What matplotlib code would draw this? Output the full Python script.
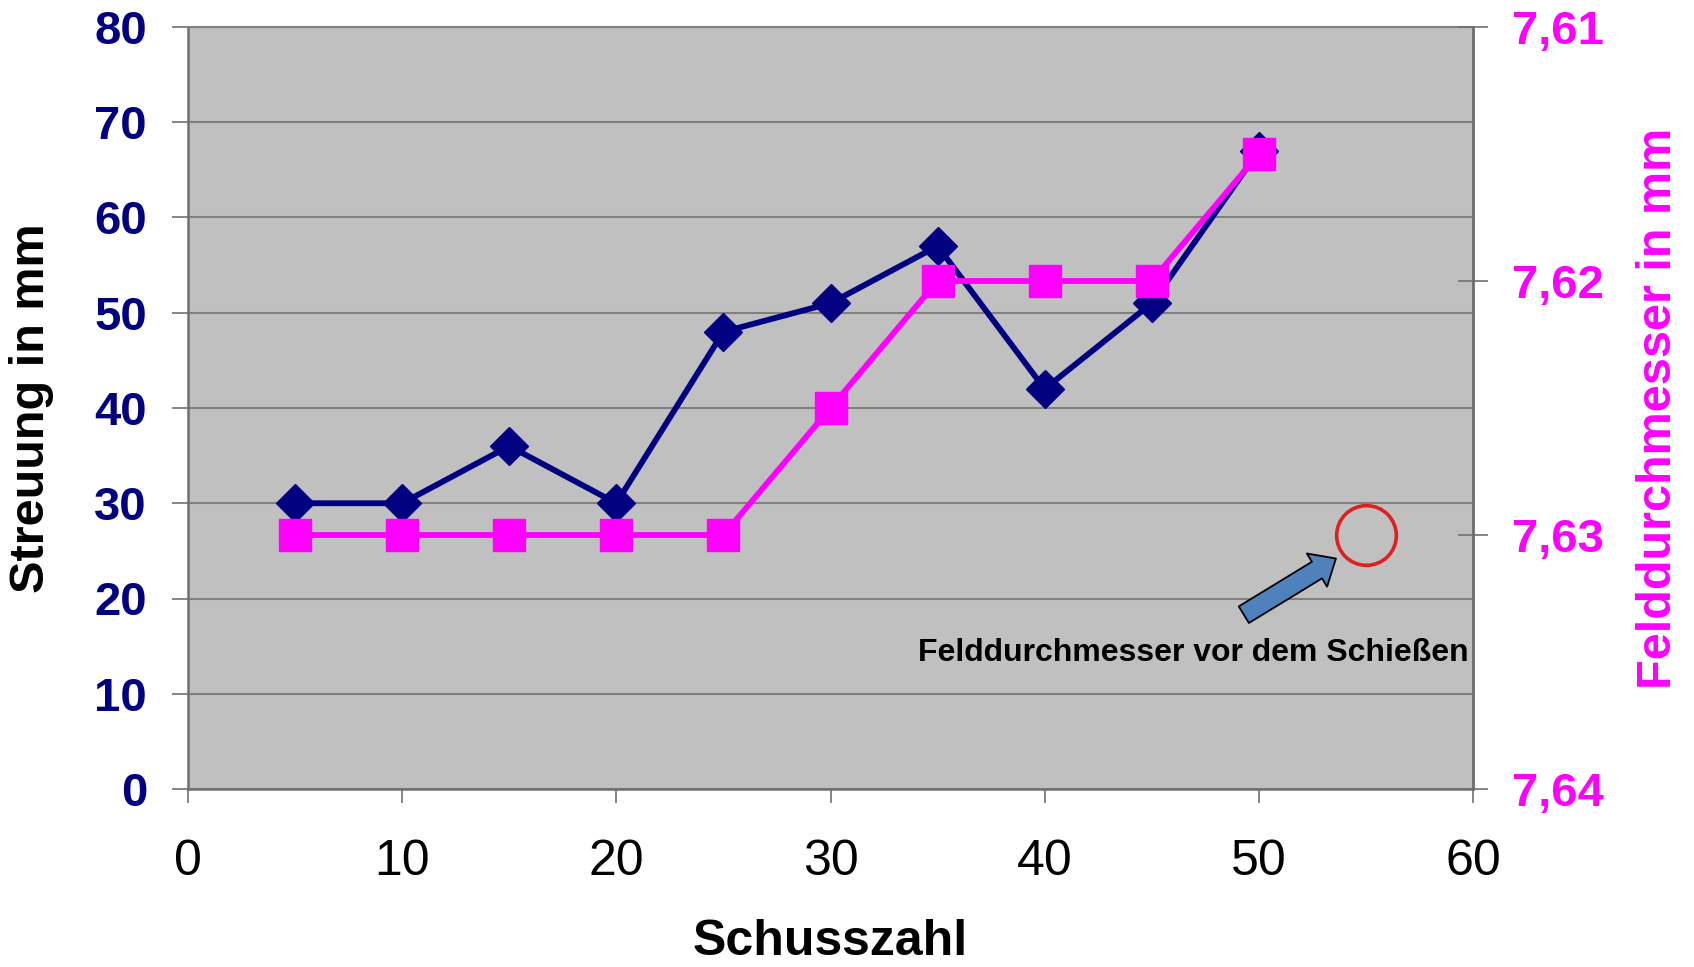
import matplotlib
matplotlib.use("Agg")
import matplotlib.pyplot as plt
from matplotlib.patches import FancyArrowPatch

plt.rcParams['font.family'] = ['Liberation Sans', 'DejaVu Sans']

# Data
schusszahl = [5, 10, 15, 20, 25, 30, 35, 40, 45, 50]
streuung = [30, 30, 36, 30, 48, 51, 57, 42, 51, 67]
felddurchmesser = [7.630, 7.630, 7.630, 7.630, 7.630, 7.625, 7.620, 7.620, 7.620, 7.615]
x_ticks = [0, 10, 20, 30, 40, 50, 60]
left_ticks = [0, 10, 20, 30, 40, 50, 60, 70, 80]
right_ticks = [7.61, 7.62, 7.63, 7.64]
right_ticklabels = ["7,61", "7,62", "7,63", "7,64"]
vorher_x = [55]
vorher_y = [7.63]
annot_text = "Felddurchmesser vor dem Schießen"

NAVY = "#000080"
MAG = "#FF00FF"

fig = plt.figure(figsize=(16.94, 9.67), dpi=100)
ax = fig.add_axes([188/1694, 1-789/967, 1285/1694, 762/967])
ax.set_facecolor("#C0C0C0")
ax.set_xlim(0, 60)
ax.set_ylim(0, 80)
ax.set_xticks(x_ticks)
ax.set_yticks(left_ticks)
ax.yaxis.grid(True, color="#808080", linewidth=1.5)
ax.set_axisbelow(True)
for s in ax.spines.values():
    s.set_color("#707070")
    s.set_linewidth(1.8)
ax.spines['top'].set_color("#808080")
ax.spines['top'].set_linewidth(1.5)

ax.tick_params(axis='y', direction='out', length=11.5, width=1.2, color="#707070",
               pad=18, labelsize=34, labelcolor=NAVY)
for t in ax.get_yticklabels():
    t.set_fontweight('bold')
ax.tick_params(axis='x', direction='out', length=10, width=1.2, color="#707070",
               pad=26, labelsize=36, labelcolor="black")

ax.plot(schusszahl, streuung, color=NAVY, linewidth=4.2, marker='D',
        markersize=19, markerfacecolor=NAVY, markeredgecolor=NAVY, zorder=3)

ax.set_ylabel("Streuung in mm", fontsize=35, fontweight='bold', color="black")
ax.yaxis.set_label_coords((32-188)/1285, 0.5)
ax.yaxis.label.set(va='center', ha='center', rotation_mode='anchor')
ax.set_xlabel("Schusszahl", fontsize=36, fontweight='bold', color="black")
ax.xaxis.set_label_coords(0.5, (789-942)/762)
ax.xaxis.label.set(va='center')

ax2 = ax.twinx()
ax2.set_ylim(7.64, 7.61)
ax2.set_yticks(right_ticks)
ax2.set_yticklabels(right_ticklabels)
ax2.patch.set_visible(False)
for s in ax2.spines.values():
    s.set_visible(False)
ax2.spines['right'].set_visible(True)
ax2.spines['right'].set_color("#707070")
ax2.spines['right'].set_linewidth(1.8)
ax2.tick_params(axis='y', direction='inout', length=21.6, width=1.2, color="#707070",
                pad=17, labelsize=34, labelcolor=MAG)
for t in ax2.get_yticklabels():
    t.set_fontweight('bold')

ax2.plot(schusszahl, felddurchmesser, color=MAG, linewidth=4.2, marker='s',
         markersize=23, markerfacecolor=MAG, markeredgecolor=MAG, zorder=4)

ax2.set_ylabel("Felddurchmesser in mm", fontsize=35, fontweight='bold', color=MAG)
ax2.yaxis.set_label_coords((1658-188)/1285, 0.5)
ax2.yaxis.label.set(va='center', ha='center', rotation=90, rotation_mode='anchor')

# Annotation circle
ax2.plot(vorher_x, vorher_y, linestyle='none', marker='o', markersize=43,
         markerfacecolor='none', markeredgecolor='#E02020', markeredgewidth=2.6, zorder=5)

# Arrow (in left-axis data coords)
ax2.add_patch(FancyArrowPatch((49.3, 18.3), (53.6, 24.2),
                              transform=ax.transData,
                              arrowstyle="simple,head_length=16,head_width=28,tail_width=14",
                              mutation_scale=1, facecolor="#4F81BD", edgecolor="black",
                              linewidth=1.3, zorder=6, shrinkA=0, shrinkB=0))

ax2.text(59.8, 14.3, annot_text, transform=ax.transData, ha='right', va='center',
         fontsize=23, fontweight='bold', color='black', zorder=7)

fig.savefig("out.png", dpi=100)
